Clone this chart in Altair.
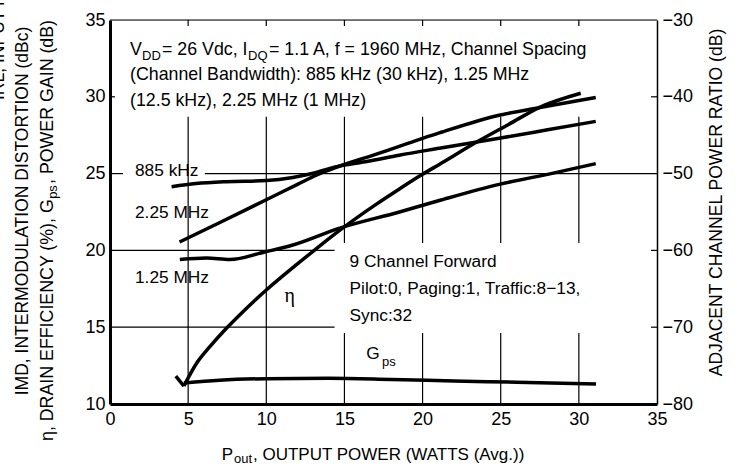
import altair as alt
import pandas as pd

FONT = "Liberation Sans"
ETA_FONT = "Liberation Serif"

# ---------------- data ----------------
x_ticks = [0, 5, 10, 15, 20, 25, 30, 35]
yl_ticks = [10, 15, 20, 25, 30, 35]
yr_ticks = [-80, -70, -60, -50, -40, -30]

# drain efficiency (left axis, %); first two points are the small start hook
eta_x = [4.21, 4.73, 5.54, 6.39, 7.45, 8.51, 10.0, 11.7, 12.98, 14.69, 17.0, 18.52, 19.99, 21.07, 23.63, 25.5, 27.46, 30.12]
eta_y = [11.82, 11.17, 12.65, 13.73, 14.93, 16.01, 17.42, 18.88, 19.93, 21.3, 22.98, 24.0, 24.95, 25.6, 27.15, 28.2, 29.3, 30.23]

# power gain (left axis, dB)
gps_x = [4.73, 7.0, 10.0, 14.0, 18.0, 22.0, 26.0, 31.1]
gps_y = [11.37, 11.55, 11.65, 11.68, 11.6, 11.5, 11.42, 11.3]

# adjacent channel power ratio (right axis, dB)
acpr_885_x = [3.94, 5.5, 7.45, 10.0, 11.7, 13.0, 14.5, 16.5, 18.5, 21.07, 24.9, 28.0, 31.08]
acpr_885_y = [-51.7, -51.3, -51.05, -50.9, -50.5, -49.96, -49.1, -48.4, -47.6, -46.7, -45.4, -44.3, -43.2]

acpr_225_x = [4.45, 7.0, 10.0, 12.0, 13.2, 14.05, 17.0, 21.07, 24.9, 27.5, 31.08]
acpr_225_y = [-58.9, -56.4, -53.4, -51.4, -50.2, -49.5, -47.5, -44.7, -42.4, -41.4, -40.1]

acpr_125_x = [4.47, 6.17, 7.66, 9.9, 11.7, 14.7, 18.52, 21.07, 24.9, 28.0, 31.08]
acpr_125_y = [-61.2, -61.0, -61.2, -60.2, -59.3, -57.1, -55.0, -53.5, -51.4, -50.1, -48.7]

# grid segments (left-axis units)
vgrid_x = [5, 10, 15, 15, 20, 20, 25, 25, 30, 30]
vgrid_y1 = [10, 10, 10, 20.48, 10, 20.48, 10, 20.48, 10, 20.48]
vgrid_y2 = [28.7, 28.7, 14.62, 28.7, 14.62, 28.7, 14.62, 28.7, 14.62, 28.7]

hgrid_y = [25, 25, 20, 15, 35]
hgrid_x1 = [0, 6.07, 0, 0, 0]
hgrid_x2 = [0.83, 35, 14.37, 14.37, 35]

# short inward ticks
tick_top_x = [5, 10, 15, 20, 25, 30]
tick_left_y = [30]
tick_right_y = [30, 20, 15]

# in-plot labels (data units)
lab_text = ["885 kHz", "2.25 MHz", "1.25 MHz", "9 Channel Forward",
            "Pilot:0, Paging:1, Traffic:8\u221213,", "Sync:32"]
lab_x = [1.6, 1.6, 1.6, 15.33, 15.33, 15.33]
lab_y = [25.14, 22.43, 18.2, 19.24, 17.49, 15.73]

W, H = 547, 384

xs = alt.Scale(domain=[0, 35], nice=False, zero=False)
yls = alt.Scale(domain=[10, 35], nice=False, zero=False)
yrs = alt.Scale(domain=[-80, -30], nice=False, zero=False)

axis_common = dict(labelFont=FONT, labelFontSize=18, labelColor="black", domainColor="black",
                   ticks=False, grid=False, title=None, labelFlush=False)
X_AX = alt.Axis(values=x_ticks, domainWidth=3, labelPadding=6, **axis_common)
YL_AX = alt.Axis(values=yl_ticks, domainWidth=3, labelPadding=5, **axis_common)
YR_AX = alt.Axis(orient="right", values=yr_ticks, domainWidth=1.5, labelPadding=5, **axis_common)


def X(f):
    return alt.X(f, scale=xs, axis=X_AX)


def YL(f):
    return alt.Y(f, scale=yls, axis=YL_AX)


def ptext(txt, px, py, size=17.8, align="left", baseline="alphabetic", angle=0, font=FONT):
    return alt.Chart(pd.DataFrame({"t": [txt]})).mark_text(
        fontSize=size, align=align, baseline=baseline, angle=angle, font=font, color="black"
    ).encode(x=alt.value(px), y=alt.value(py), text="t:N")


def dtext(txt, x, y, size=17.3, align="left", font=FONT):
    return alt.Chart(pd.DataFrame({"t": [txt], "x": [x], "y": [y]})).mark_text(
        fontSize=size, align=align, baseline="middle", font=font, color="black"
    ).encode(x=X("x:Q"), y=YL("y:Q"), text="t:N")


vgrid = alt.Chart(pd.DataFrame({"x": vgrid_x, "y1": vgrid_y1, "y2": vgrid_y2})).mark_rule(
    color="black", strokeWidth=1.2
).encode(x=X("x:Q"), y=YL("y1:Q"), y2="y2:Q")

hgrid = alt.Chart(pd.DataFrame({"y": hgrid_y, "x1": hgrid_x1, "x2": hgrid_x2})).mark_rule(
    color="black", strokeWidth=1.2
).encode(y=YL("y:Q"), x=X("x1:Q"), x2="x2:Q")

ticks_top = alt.Chart(pd.DataFrame({"x": tick_top_x})).mark_rule(color="black", strokeWidth=1.2).encode(
    x=X("x:Q"), y=alt.value(0), y2=alt.value(6))
ticks_left = alt.Chart(pd.DataFrame({"y": tick_left_y})).mark_rule(color="black", strokeWidth=1.2).encode(
    y=YL("y:Q"), x=alt.value(0), x2=alt.value(5))
ticks_right = alt.Chart(pd.DataFrame({"y": tick_right_y})).mark_rule(color="black", strokeWidth=1.2).encode(
    y=YL("y:Q"), x=alt.value(W - 6), x2=alt.value(W))

eta_hook = alt.Chart(pd.DataFrame({"x": eta_x[:2], "y": eta_y[:2]})).mark_line(
    color="black", strokeWidth=3.5).encode(x=X("x:Q"), y=YL("y:Q"))
eta_line = alt.Chart(pd.DataFrame({"x": eta_x[1:], "y": eta_y[1:]})).mark_line(
    color="black", strokeWidth=3.5, interpolate="monotone").encode(x=X("x:Q"), y=YL("y:Q"))
gps_line = alt.Chart(pd.DataFrame({"x": gps_x, "y": gps_y})).mark_line(
    color="black", strokeWidth=3.5, interpolate="monotone").encode(x=X("x:Q"), y=YL("y:Q"))

labels = alt.Chart(pd.DataFrame({"t": lab_text, "x": lab_x, "y": lab_y})).mark_text(
    fontSize=17.3, align="left", baseline="middle", font=FONT, color="black"
).encode(x=X("x:Q"), y=YL("y:Q"), text="t:N")

eta_lab = dtext("\u03b7", 11.5, 17.0, size=20, align="center", font=ETA_FONT)
g_lab = dtext("G", 16.39, 13.26, size=17.3)
ps_lab = dtext("ps", 17.4, 12.75, size=13)

left_layer = alt.layer(vgrid, hgrid, ticks_top, ticks_left, ticks_right, eta_hook, eta_line, gps_line,
                       labels, eta_lab, g_lab, ps_lab)

acpr_df = pd.DataFrame({
    "x": acpr_885_x + acpr_225_x + acpr_125_x,
    "y": acpr_885_y + acpr_225_y + acpr_125_y,
    "s": ["885 kHz"] * len(acpr_885_x) + ["2.25 MHz"] * len(acpr_225_x) + ["1.25 MHz"] * len(acpr_125_x),
})
acpr = alt.Chart(acpr_df).mark_line(color="black", strokeWidth=3.5, interpolate="monotone").encode(
    x=X("x:Q"),
    y=alt.Y("y:Q", scale=yrs, axis=YR_AX),
    detail="s:N",
)

# text placed in pixels relative to the plot origin (110, 20)
texts = [
    # top annotation
    ptext("V", 20, 35), ptext("DD", 32, 40, size=13), ptext("= 26 Vdc, I", 52, 35),
    ptext("DQ", 138, 40, size=13), ptext("= 1.1 A, f = 1960 MHz, Channel Spacing", 159, 35),
    ptext("(Channel Bandwidth): 885 kHz (30 kHz), 1.25 MHz", 20, 60),
    ptext("(12.5 kHz), 2.25 MHz (1 MHz)", 20, 86),
    # x title
    ptext("P", 111.7, 440, size=17), ptext("out", 124, 443, size=13),
    ptext(", OUTPUT POWER (WATTS (Avg.))", 143, 440, size=17),
    # right title
    ptext("ADJACENT CHANNEL POWER RATIO (dB)", 611.7, 182.5, size=17.6, align="center", angle=270),
    # left titles
    ptext("\u03b7, DRAIN EFFICIENCY (%), G", -57, 421, angle=270),
    ptext("ps", -53, 172, size=13, align="center", angle=270),
    ptext(" , POWER GAIN (dB)", -57, 164, angle=270),
    ptext("IMD, INTERMODULATION DISTORTION (dBc)", -82, 191, size=17.5, align="center", angle=270),
    ptext("IRL, INPUT RETURN LOSS (dB)", -106, 80, size=17.5, align="left", angle=270),
]

chart = alt.layer(left_layer, acpr, *texts).resolve_scale(y="independent").properties(
    width=W, height=H,
    autosize=alt.AutoSizeParams(type="none"),
    padding={"left": 110, "top": 20, "right": 82, "bottom": 62},
).configure_view(stroke=None).configure(background="white")

chart.save("out.html", embed_options={"renderer": "svg", "actions": False})
